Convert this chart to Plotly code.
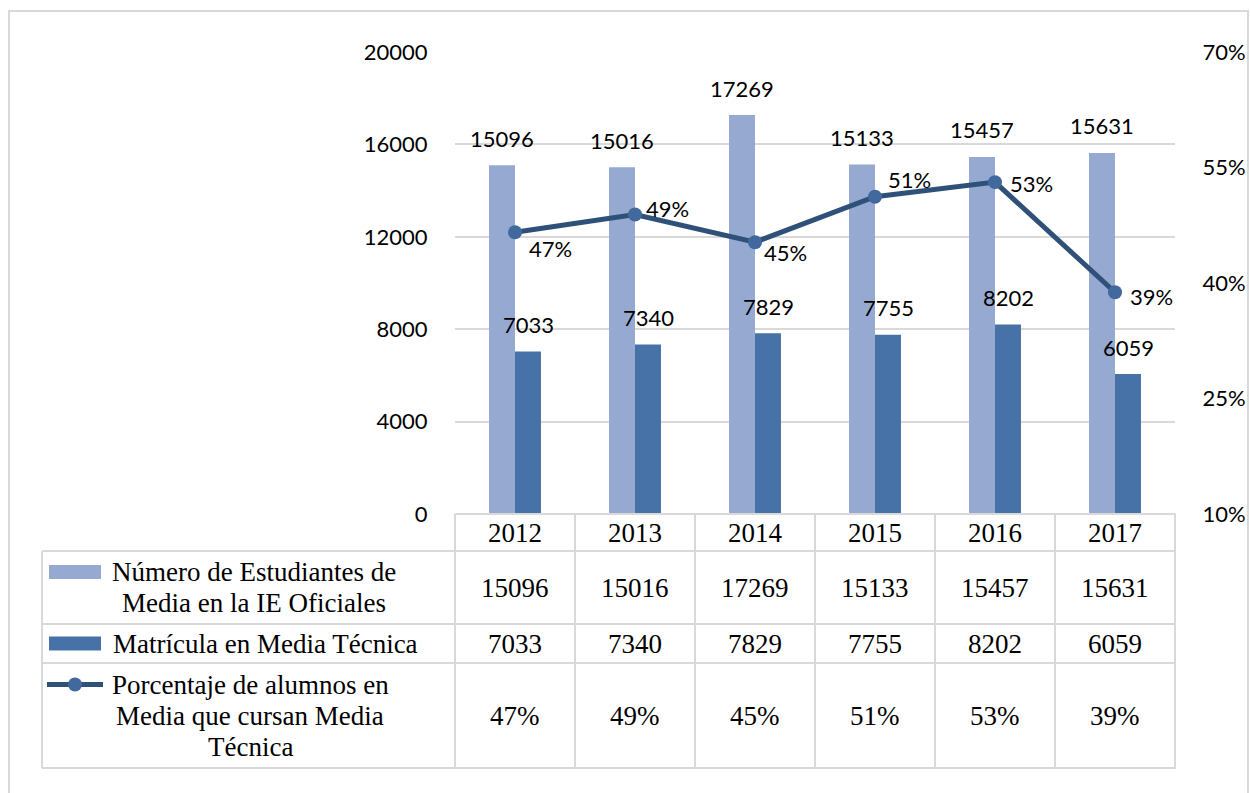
import plotly.graph_objects as go

# ---------------- data ----------------
years = ["2012", "2013", "2014", "2015", "2016", "2017"]
estudiantes = [15096, 15016, 17269, 15133, 15457, 15631]
matricula = [7033, 7340, 7829, 7755, 8202, 6059]
porcentaje = [0.466, 0.489, 0.453, 0.512, 0.531, 0.388]
porcentaje_labels = ["47%", "49%", "45%", "51%", "53%", "39%"]

series_names = [
    "Número de Estudiantes de Media en la IE Oficiales",
    "Matrícula en Media Técnica",
    "Porcentaje de alumnos en Media que cursan Media Técnica",
]
name_lines = [
    ["Número de Estudiantes de", "Media en la IE Oficiales"],
    ["Matrícula en Media Técnica"],
    ["Porcentaje de alumnos en", "Media que cursan Media", "Técnica"],
]

left_ticks = [0, 4000, 8000, 12000, 16000, 20000]
left_tick_text = ["0", "4000", "8000", "12000", "16000", "20000"]
right_ticks = [0.10, 0.25, 0.40, 0.55, 0.70]
right_tick_text = ["10%", "25%", "40%", "55%", "70%"]

# ---------------- style / layout ----------------
W, H = 1250, 793
L, R, T, B = 455, 1175, 52, 514   # plot area in pixels
c_light = "#95A9D1"
c_dark = "#4672A8"
c_line = "#2E5079"
c_marker = "#41699D"
c_grid = "#D9D9D9"
sans = "Lato"
serif = "Liberation Serif"
pct_offsets = [(12, -16), (9, 6), (7, -10), (11, 17), (13, -1), (13, -4)]


def px(p):
    return (p - L) / (R - L)


def py(p):
    return (B - p) / (B - T)


xi = list(range(len(years)))

fig = go.Figure()
fig.add_trace(go.Bar(x=xi, y=estudiantes, name=series_names[0],
                     marker=dict(color=c_light, line=dict(width=0))))
fig.add_trace(go.Bar(x=xi, y=matricula, name=series_names[1],
                     marker=dict(color=c_dark, line=dict(width=0))))
fig.add_trace(go.Scatter(x=xi, y=porcentaje, name=series_names[2], yaxis="y2",
                         mode="lines+markers",
                         line=dict(color=c_line, width=5),
                         marker=dict(color=c_marker, size=14)))

ann = []
shapes = []
lfont = dict(family=sans, size=22, color="#000")
# bar + line data labels
for i in xi:
    ann.append(dict(x=i, y=estudiantes[i], xref="x", yref="y", text=str(estudiantes[i]),
                    showarrow=False, xshift=-13, yshift=27, xanchor="center",
                    yanchor="middle", font=lfont))
    ann.append(dict(x=i, y=matricula[i], xref="x", yref="y", text=str(matricula[i]),
                    showarrow=False, xshift=13, yshift=27, xanchor="center",
                    yanchor="middle", font=lfont))
    dx, dy = pct_offsets[i]
    ann.append(dict(x=i, y=porcentaje[i], xref="x", yref="y2", text=porcentaje_labels[i],
                    showarrow=False, xanchor="left", xshift=dx, yshift=dy,
                    yanchor="middle", font=lfont))

# ---------------- data table ----------------
row_edges = [514, 551, 624, 663, 768]
line_style = dict(color=c_grid, width=2)
shapes.append(dict(type="line", xref="paper", yref="paper", x0=0, x1=1.001,
                   y0=py(row_edges[0]), y1=py(row_edges[0]), line=line_style))
for e in row_edges[1:]:
    shapes.append(dict(type="line", xref="paper", yref="paper", x0=px(42), x1=1.001,
                       y0=py(e), y1=py(e), line=line_style))
shapes.append(dict(type="line", xref="paper", yref="paper", x0=px(42), x1=px(42),
                   y0=py(row_edges[1]), y1=py(row_edges[-1]), line=line_style))
for k in range(len(years) + 1):
    shapes.append(dict(type="line", xref="paper", yref="paper", x0=k / len(years),
                       x1=k / len(years), y0=py(row_edges[0]), y1=py(row_edges[-1]),
                       line=line_style))

tfont = dict(family=serif, size=27, color="#000")
rows_vals = [
    [str(v) for v in estudiantes],
    [str(v) for v in matricula],
    porcentaje_labels,
]
for i, y in enumerate(years):
    cx = (i + 0.5) / len(years)
    ann.append(dict(x=cx, y=py((row_edges[0] + row_edges[1]) / 2), xref="paper", yref="paper",
                    text=y, showarrow=False, xanchor="center", yanchor="middle", font=tfont))
    for r in range(3):
        cy = py((row_edges[r + 1] + row_edges[r + 2]) / 2)
        ann.append(dict(x=cx, y=cy, xref="paper", yref="paper", text=rows_vals[r][i],
                        showarrow=False, xanchor="center", yanchor="middle", font=tfont))

# legend keys + names in table
name_centers = [254, 265, 250]
line_gap = 31
for r in range(3):
    rc = (row_edges[r + 1] + row_edges[r + 2]) / 2
    lines = name_lines[r]
    n = len(lines)
    for j, t in enumerate(lines):
        ly = rc + (j - (n - 1) / 2) * line_gap
        ann.append(dict(x=px(name_centers[r]), y=py(ly), xref="paper", yref="paper",
                        text=t, showarrow=False, xanchor="center", yanchor="middle",
                        font=tfont))
    ky = rc - (n - 1) / 2 * line_gap
    if r < 2:
        shapes.append(dict(type="rect", xref="paper", yref="paper",
                           x0=px(49), x1=px(101), y0=py(ky - 7), y1=py(ky + 7),
                           fillcolor=[c_light, c_dark][r], line=dict(width=0)))
    else:
        shapes.append(dict(type="line", xref="paper", yref="paper",
                           x0=px(47), x1=px(103), y0=py(ky), y1=py(ky),
                           line=dict(color=c_line, width=5)))
        shapes.append(dict(type="circle", xref="paper", yref="paper",
                           x0=px(68), x1=px(82), y0=py(ky - 7), y1=py(ky + 7),
                           fillcolor=c_marker, line=dict(width=0)))

# outer chart border
shapes.append(dict(type="rect", xref="paper", yref="paper", x0=px(9), x1=px(1248),
                   y0=py(11), y1=py(805), line=dict(color=c_grid, width=2), layer="below"))

fig.update_layout(
    width=W, height=H,
    margin=dict(l=L, r=W - R, t=T, b=H - B),
    paper_bgcolor="white", plot_bgcolor="white",
    barmode="group", bargap=0.567, bargroupgap=0,
    showlegend=False,
    xaxis=dict(showticklabels=False, showgrid=False, zeroline=False,
               showline=False, range=[-0.5, 5.5], automargin=False),
    yaxis=dict(range=[0, 20000], tickvals=left_ticks, ticktext=left_tick_text,
               showgrid=True, gridcolor=c_grid,
               gridwidth=2, zeroline=False, showline=False, automargin=False,
               tickfont=lfont,
               ticks="outside", ticklen=22, tickcolor="rgba(0,0,0,0)"),
    yaxis2=dict(range=[0.1, 0.7], tickvals=right_ticks, ticktext=right_tick_text,
                overlaying="y", side="right", showgrid=False, zeroline=False, showline=False,
                automargin=False, tickfont=lfont,
                ticks="outside", ticklen=22, tickcolor="rgba(0,0,0,0)"),
    annotations=ann,
    shapes=shapes,
)

fig.write_html("out.html")
